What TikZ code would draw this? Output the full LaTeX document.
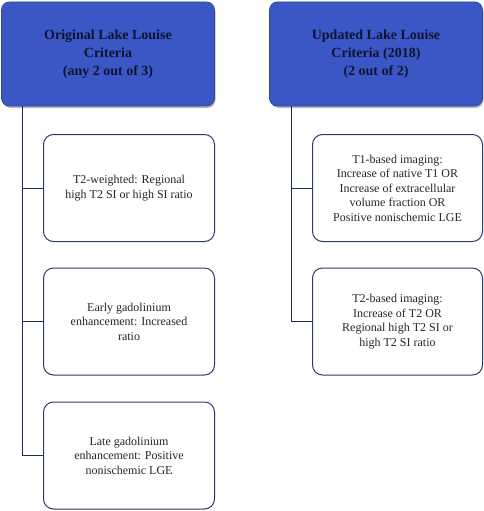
\documentclass[tikz,border=0pt]{standalone}
\usepackage{fontspec}
\setmainfont{Liberation Serif}
\usetikzlibrary{shadows}
\definecolor{hdrblue}{HTML}{3B57C6}
\definecolor{hdredge}{HTML}{2F46A8}
\definecolor{boxline}{HTML}{2A3A70}
\definecolor{linkline}{HTML}{1E2A5A}
\definecolor{txtdark}{HTML}{0E1330}
\tikzset{
  hdr/.style={draw=hdredge, line width=0.8pt, fill=hdrblue, rounded corners=8pt,
    minimum width=213pt, minimum height=104pt, inner sep=0pt, align=center,
    text=txtdark, font=\fontsize{14}{18}\selectfont\bfseries,
    drop shadow={shadow xshift=1pt, shadow yshift=-2pt, fill=black!55, opacity=0.5}},
  child/.style={draw=boxline, line width=1pt, fill=white, rounded corners=10pt,
    minimum width=171pt, minimum height=107pt, inner sep=0pt, align=center,
    text=black!85, font=\fontsize{12}{14.5}\selectfont},
  link/.style={draw=linkline, line width=1pt}
}
\begin{document}
\begin{tikzpicture}[x=1pt,y=-1pt]
\useasboundingbox (0,0) rectangle (484,511);
% headers
\node[hdr] (h1) at (108,54) {Original Lake Louise\\Criteria\\(any 2 out of 3)};
\node[hdr, minimum width=213pt] (h2) at (376,54) {Updated Lake Louise\\Criteria (2018)\\(2 out of 2)};
% left children
\node[child] (l1) at (129,188) {T2-weighted: Regional\\high T2 SI or high SI ratio};
\node[child] (l2) at (129,321.5) {Early gadolinium\\enhancement: Increased\\ratio};
\node[child] (l3) at (129,455.5) {Late gadolinium\\enhancement: Positive\\nonischemic LGE};
% right children
\node[child, minimum width=170pt] (r1) at (397.5,188) {T1-based imaging:\\Increase of native T1 OR\\Increase of extracellular\\volume fraction OR\\Positive nonischemic LGE};
\node[child, minimum width=170pt] (r2) at (397.5,321.5) {T2-based imaging:\\Increase of T2 OR\\Regional high T2 SI or\\high T2 SI ratio};
% connectors
\coordinate (lt) at (22.5,0 |- h1.south);
\coordinate (rt) at (291,0 |- h2.south);
\draw[link] (lt) |- (l1.west);
\draw[link] (lt) |- (l2.west);
\draw[link] (lt) |- (l3.west);
\draw[link] (rt) |- (r1.west);
\draw[link] (rt) |- (r2.west);
\end{tikzpicture}
\end{document}
